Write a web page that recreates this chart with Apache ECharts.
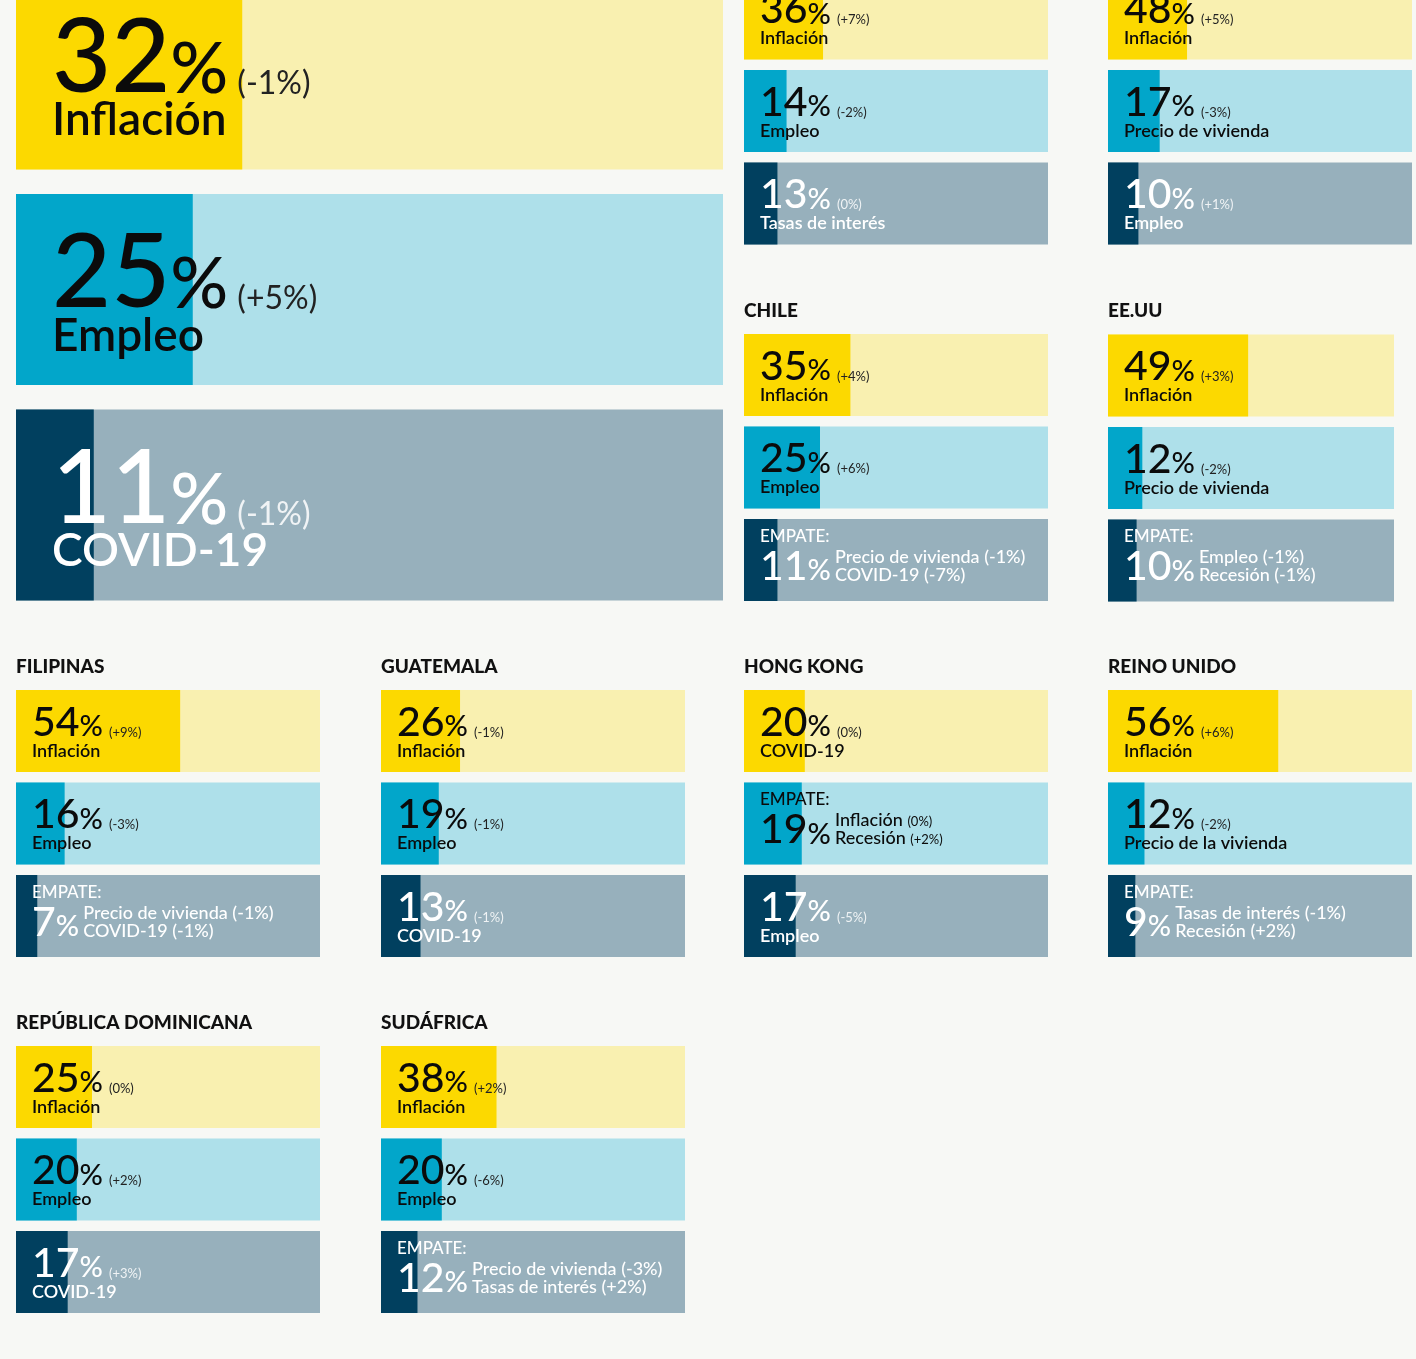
<!DOCTYPE html>
<html>
<head>
<meta charset="utf-8">
<script src="https://cdn.jsdelivr.net/npm/echarts@6/dist/echarts.min.js"></script>
<style>
html,body{margin:0;padding:0;background:#F7F8F5;overflow:hidden}
#main{width:1416px;height:1399px;margin-top:-40px}
</style>
</head>
<body>
<div id="main"></div>
<script>
// bloques: el primero es el global, los dos siguientes tienen el titulo cortado arriba
const panelNames = ['', '', '', 'CHILE', 'EE.UU', 'FILIPINAS', 'GUATEMALA', 'HONG KONG', 'REINO UNIDO', 'REPÚBLICA DOMINICANA', 'SUDÁFRICA'];
// porcentaje impreso en cada fila
const shares = [
  [32, 25, 11], [36, 14, 13], [48, 17, 10], [35, 25, 11], [49, 12, 10],
  [54, 16, 7], [26, 19, 13], [20, 19, 17], [56, 12, 9], [25, 20, 17], [38, 20, 12]
];
// largo de barra tal como aparece dibujado
const barShares = [
  [32, 25, 11], [26, 14, 11], [26, 17, 10], [35, 25, 11], [49, 12, 10],
  [54, 16, 7], [26, 19, 13], [20, 19, 17], [56, 12, 9], [25, 20, 17], [38, 20, 12]
];
const changes = [
  ['-1%', '+5%', '-1%'],
  ['+7%', '-2%', '0%'],
  ['+5%', '-3%', '+1%'],
  ['+4%', '+6%', ['-1%', '-7%']],
  ['+3%', '-2%', ['-1%', '-1%']],
  ['+9%', '-3%', ['-1%', '-1%']],
  ['-1%', '-1%', '-1%'],
  ['0%', ['0%', '+2%'], '-5%'],
  ['+6%', '-2%', ['-1%', '+2%']],
  ['0%', '+2%', '+3%'],
  ['+2%', '-6%', ['-3%', '+2%']]
];
const reasons = [
  ['Inflación', 'Empleo', 'COVID-19'],
  ['Inflación', 'Empleo', 'Tasas de interés'],
  ['Inflación', 'Precio de vivienda', 'Empleo'],
  ['Inflación', 'Empleo', ['Precio de vivienda', 'COVID-19']],
  ['Inflación', 'Precio de vivienda', ['Empleo', 'Recesión']],
  ['Inflación', 'Empleo', ['Precio de vivienda', 'COVID-19']],
  ['Inflación', 'Empleo', 'COVID-19'],
  ['COVID-19', ['Inflación', 'Recesión'], 'Empleo'],
  ['Inflación', 'Precio de la vivienda', ['Tasas de interés', 'Recesión']],
  ['Inflación', 'Empleo', 'COVID-19'],
  ['Inflación', 'Empleo', ['Precio de vivienda', 'Tasas de interés']]
];

const dark = ['#FCD900', '#02A6CA', '#01405F'];
const light = ['#F9F0B0', '#AEE0EA', '#97B0BC'];
const FONT = 'Lato';

// el div sube 40px para que las filas cortadas arriba no queden fuera del contenedor
const SHIFT = 40;
const boxes = [
  {left: 16, top: -21.5, width: 707, big: true},
  {left: 744, top: -22.5}, {left: 1108, top: -22.5},
  {left: 744, top: 334}, {left: 1108, top: 334.5, width: 286},
  {left: 16, top: 690}, {left: 381, top: 690}, {left: 744, top: 690}, {left: 1108, top: 690},
  {left: 16, top: 1046}, {left: 381, top: 1046}
];

const M = 0.15; // linea base sobre el borde inferior de la linea, en em
const SMALL = {padX: 16, num: 41, pct: 29, chg: 13, lab: 18, b1: 47, b2: 67, gap: 6,
  tie: 17, b0: 23, tb1: 62, det: 18, detB: 44, detH: 18, rowH: 82, step: 92.5};
const BIG = {padX: 36, num: 102, pct: 72, chg: 32, lab: 46, b1: 116, b2: 158, gap: 9,
  rowH: 191, step: 215.5};

const ctx = document.createElement('canvas').getContext('2d');
function textW(str, size, weight) {
  ctx.font = weight + ' ' + size + 'px ' + FONT;
  return ctx.measureText(str).width;
}

function buildRich(cfg) {
  const rich = {};
  const lift = F => M * (cfg.num - F);
  [['k', '#0B0B0B', '#222'], ['w', '#FFFFFF', 'rgba(255,255,255,0.85)']].forEach(([s, ink, sub]) => {
    const base = {fontFamily: FONT, color: ink, verticalAlign: 'bottom'};
    rich['n' + s] = Object.assign({}, base, {fontSize: cfg.num, fontWeight: 500, lineHeight: cfg.num});
    rich['p' + s] = Object.assign({}, base, {fontSize: cfg.pct, fontWeight: 500,
      lineHeight: cfg.pct, padding: [0, 0, lift(cfg.pct), 0]});
    rich['c' + s] = Object.assign({}, base, {fontSize: cfg.chg, color: sub,
      lineHeight: cfg.chg, padding: [0, 0, lift(cfg.chg), cfg.gap]});
    rich['l' + s] = Object.assign({}, base, {fontSize: cfg.lab, fontWeight: 600,
      lineHeight: (cfg.b2 - cfg.b1) + M * (cfg.lab - cfg.num)});
    if (cfg.tie) {
      rich['e' + s] = Object.assign({}, base, {fontSize: cfg.tie, fontWeight: 500, lineHeight: cfg.tie});
      rich['m' + s] = Object.assign({}, rich['n' + s], {lineHeight: (cfg.tb1 - cfg.b0) + M * (cfg.num - cfg.tie)});
      rich['d' + s] = Object.assign({}, base, {fontSize: cfg.det, fontWeight: 500, lineHeight: cfg.detH});
      rich['s' + s] = Object.assign({}, base, {fontSize: cfg.chg, fontWeight: 400, lineHeight: cfg.chg,
        padding: [0, 0, M * (cfg.det - cfg.chg), 0]});
    }
  });
  return rich;
}

const grids = [], xAxes = [], yAxes = [], series = [], titles = [];

panelNames.forEach((name, i) => {
  const box = boxes[i];
  const cfg = box.big ? BIG : SMALL;
  const rich = buildRich(cfg);
  const rowTop = cfg.b1 - cfg.num + M * cfg.num;
  const tieTop = cfg.tie ? cfg.b0 - cfg.tie + M * cfg.tie : 0;
  grids.push({left: box.left, top: SHIFT + box.top - (cfg.step - cfg.rowH) / 2,
    width: box.width || 304, height: cfg.step * 3});
  xAxes.push({gridIndex: i, type: 'value', min: 0, max: 100, show: false});
  yAxes.push({gridIndex: i, type: 'category', inverse: true, show: false,
    data: reasons[i].map(r => Array.isArray(r) ? r.join(' / ') : r)});
  if (name) {
    titles.push({text: name, left: box.left, top: SHIFT + box.top - 33, padding: 0,
      textStyle: {fontFamily: FONT, fontSize: 19, fontWeight: 900, color: '#111'}});
  }

  const tone = r => r === 2 ? 'w' : 'k';
  const isTie = r => Array.isArray(reasons[i][r]);
  const compact = name === 'HONG KONG';

  // fondo claro de cada fila, lleva el detalle de los empates
  series.push({
    type: 'bar', xAxisIndex: i, yAxisIndex: i, barWidth: cfg.rowH, barGap: '-100%',
    silent: true, animation: false, z: 2,
    data: [0, 1, 2].map(r => {
      const item = {value: 100, itemStyle: {color: light[r]}, label: {show: false}};
      if (isTie(r)) {
        const x = cfg.padX + textW(String(shares[i][r]), cfg.num, 500) + textW('%', cfg.pct, 500) + 4;
        item.label = {show: true, position: [x, cfg.detB - cfg.detH + M * cfg.det]};
      }
      return item;
    }),
    label: {
      rich: rich,
      formatter: p => {
        const r = p.dataIndex, t = tone(r);
        if (!isTie(r)) return '';
        return reasons[i][r].map((nm, j) => compact
          ? '{d' + t + '|' + nm + ' }{s' + t + '|(' + changes[i][r][j] + ')}'
          : '{d' + t + '|' + nm + ' (' + changes[i][r][j] + ')}').join('\n');
      }
    }
  });

  // porcentaje de cada motivo
  series.push({
    type: 'bar', xAxisIndex: i, yAxisIndex: i, barWidth: cfg.rowH, barGap: '-100%',
    silent: true, animation: false, z: 3,
    data: barShares[i].map((v, r) => ({
      value: v,
      itemStyle: {color: dark[r]},
      label: {position: [cfg.padX, isTie(r) ? tieTop : rowTop]}
    })),
    label: {
      show: true,
      rich: rich,
      formatter: p => {
        const r = p.dataIndex, t = tone(r);
        if (isTie(r)) return '{e' + t + '|EMPATE:}\n{m' + t + '|' + shares[i][r] + '}{p' + t + '|%}';
        return '{n' + t + '|' + shares[i][r] + '}{p' + t + '|%}{c' + t + '|(' + changes[i][r] + ')}\n{l' + t + '|' + reasons[i][r] + '}';
      }
    }
  });
});

const chart = echarts.init(document.getElementById('main'));
chart.setOption({
  backgroundColor: '#F7F8F5',
  animation: false,
  title: titles,
  grid: grids,
  xAxis: xAxes,
  yAxis: yAxes,
  series: series
});
</script>
</body>
</html>
